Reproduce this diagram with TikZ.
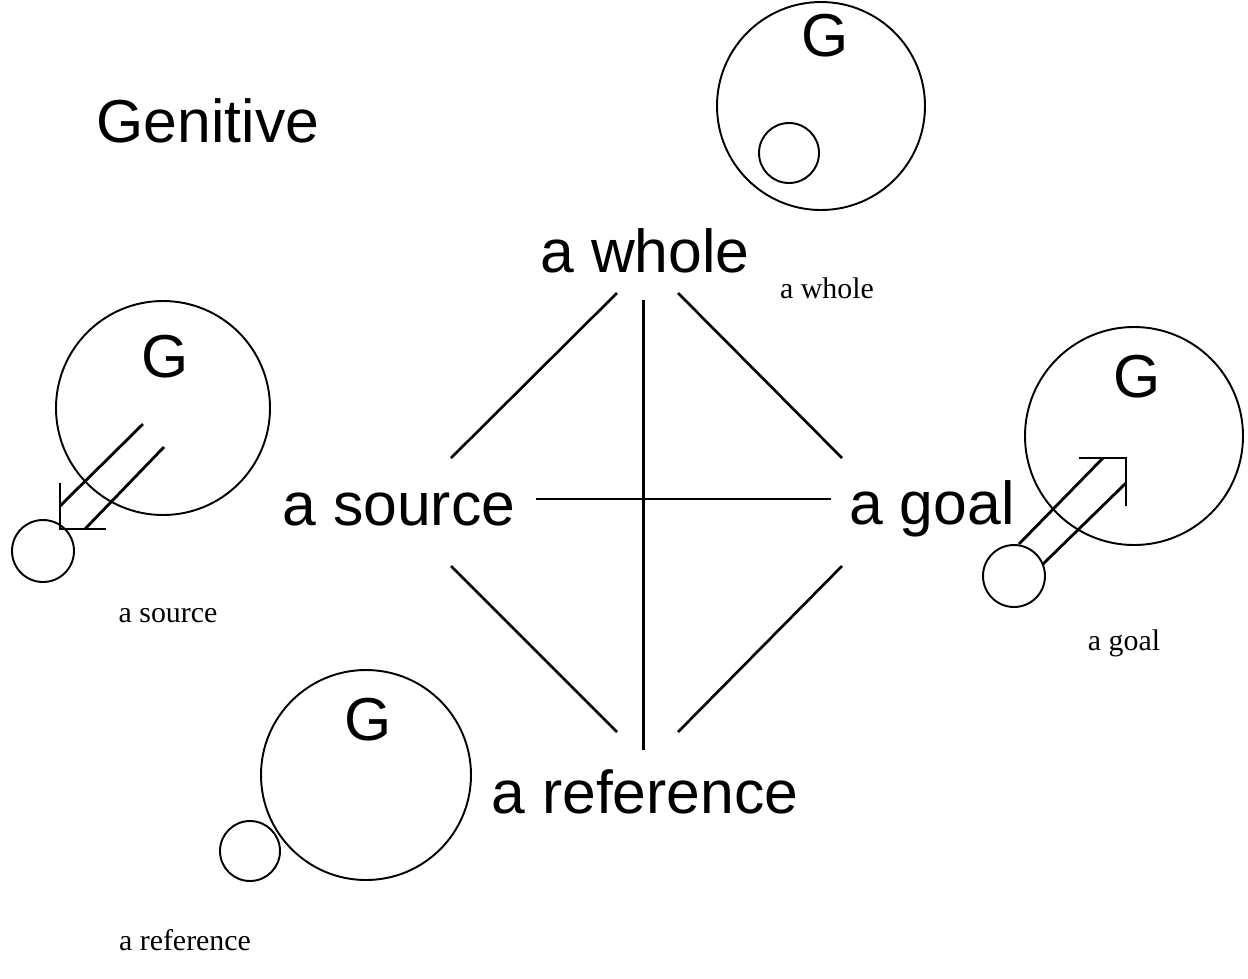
\documentclass[tikz,border=0pt]{standalone}
\usepackage{fontspec}
\setmainfont{Liberation Serif}
\newfontfamily\arialfont{Liberation Sans}
\usetikzlibrary{calc}

\begin{document}
\begin{tikzpicture}[x=0.02cm, y=-0.02cm,
  big/.style={font=\arialfont\fontsize{34.5}{40}\selectfont, inner sep=0pt, anchor=base},
  small/.style={font=\fontsize{17}{20}\selectfont, inner sep=0pt, anchor=base},
  link/.style={line width=1.5pt},
  ring/.style={line width=1.1pt},
  shaft/.style={line width=1.6pt}]

\useasboundingbox (0,0) rectangle (1248,978);

% === TITLE ===
\node[big] (title) at (208,142) {Genitive};

% === DIAMOND LABELS ===
\node[big] (whole)  at (645,272) {a whole};
\node[big] (source) at (399,525) {a source};
\node[big] (goal)   at (932,524) {a goal};
\node[big] (ref)    at (645,813) {a reference};

% diamond edges
\draw[link] ($(whole.base)+(-28,21)$) -- ($(source.base)+(52,-67)$);
\draw[link] ($(whole.base)+(33,21)$) -- ($(goal.base)+(-90,-66)$);
\draw[link] ($(whole.base)+(-1.5,28)$) -- ($(ref.base)+(-1.5,-63)$);
\draw[link] ($(source.base)+(137,-26)$) -- ($(goal.base)+(-101,-25)$);
\draw[link] ($(source.base)+(52,41)$) -- ($(ref.base)+(-28,-81)$);
\draw[link] ($(goal.base)+(-90,42)$) -- ($(ref.base)+(33,-81)$);

% === WHOLE: small circle inside G ===
\draw[ring] (821,106) circle (104);
\draw[ring] (789,153) circle (30);
\node[big] (gWhole) at (825,56) {G};
\node[small] (sWhole) at (827,298) {a whole};

% === SOURCE: small circle leaves G ===
\draw[ring] (163,408) circle (107);
\draw[ring] (43,551) circle (31);
\node[big] (gSource) at (165,377) {G};
\draw[shaft] (143,424) -- (60,506);
\draw[shaft] (164,447) -- (85,529);
\draw[shaft] (60,483) -- (60,529) -- (106,529);
\node[small] (sSource) at (168,622) {a source};

% === GOAL: small circle enters G ===
\draw[ring] (1134,436) circle (109);
\draw[ring] (1014,576) circle (31);
\node[big] (gGoal) at (1137,397) {G};
\draw[shaft] (1019,544) -- (1103,458);
\draw[shaft] (1043,564) -- (1126,483);
\draw[shaft] (1079,458) -- (1126,458) -- (1126,506);
\node[small] (sGoal) at (1124,650) {a goal};

% === REFERENCE: small circle beside G ===
\draw[ring] (366,775) circle (105);
\draw[ring] (250,851) circle (30);
\node[big] (gRef) at (368,740) {G};
\node[small] (sRef) at (185,950) {a reference};

\end{tikzpicture}
\end{document}
